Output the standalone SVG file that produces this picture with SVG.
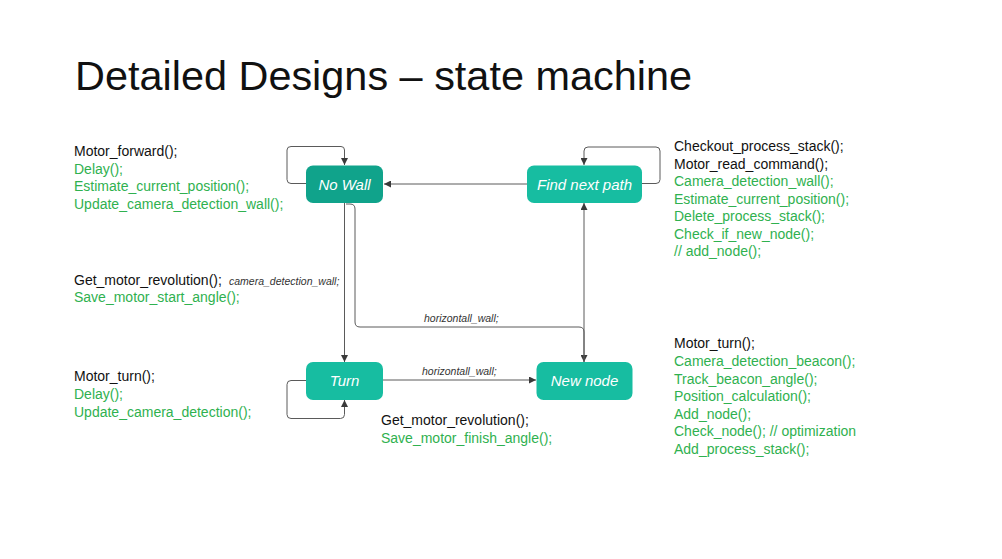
<svg xmlns="http://www.w3.org/2000/svg" width="1002" height="559" viewBox="0 0 1002 559">
  <style>
    .title { font-family: "Liberation Sans", Arial, sans-serif; font-size: 41px; fill: #111; }
    .code { font-family: "Liberation Sans", Arial, sans-serif; font-size: 14px; }
    .blk { fill: #111; }
    .grn { fill: #2fb14f; }
    .state { fill: #17bda1; }
    .state.dark { fill: #10a38b; }
    .lbl { font-family: "Liberation Sans", Arial, sans-serif; font-size: 15px; font-style: italic; fill: #fff; text-anchor: middle; }
    .edge { fill: none; stroke: #5a5a5a; stroke-width: 1; }
    .elbl { font-family: "Liberation Sans", Arial, sans-serif; font-size: 10.5px; font-style: italic; fill: #333; }
  </style>
  <defs>
    <marker id="arrow" viewBox="0 0 8 8" refX="8" refY="4" markerWidth="7" markerHeight="7" markerUnits="userSpaceOnUse" orient="auto">
      <path d="M0,0 L8,4 L0,8 z" fill="#3a3a3a"/>
    </marker>
  </defs>

  <rect width="1002" height="559" fill="#ffffff"/>

  <text class="title" x="75" y="90" textLength="617" lengthAdjust="spacingAndGlyphs">Detailed Designs – state machine</text>

  <!-- transitions -->
  <g id="connectors">
    <path class="edge" d="M306,183.5 H291 Q287,183.5 287,179.5 V150 Q287,146.5 291,146.5 H341 Q344.5,146.5 344.5,150 V165" marker-end="url(#arrow)"/>
    <path class="edge" d="M642,183.5 H656 Q660,183.5 660,179.5 V151 Q660,147 656,147 H588 Q584,147 584,151 V165" marker-end="url(#arrow)"/>
    <path class="edge" d="M527,184 H384" marker-end="url(#arrow)"/>
    <path class="edge" d="M344.5,203 V362" marker-end="url(#arrow)"/>
    <path class="edge" d="M346,204 H350 Q355,204 355,209 V322 Q355,327 360,327 H579 Q584,327 584,332 V362" marker-end="url(#arrow)"/>
    <path class="edge" d="M584,362 V203" marker-end="url(#arrow)"/>
    <path class="edge" d="M383,380 H536" marker-end="url(#arrow)"/>
    <path class="edge" d="M306,380.5 H291 Q287,380.5 287,384.5 V414.5 Q287,418.5 291,418.5 H340.5 Q344.5,418.5 344.5,414.5 V400" marker-end="url(#arrow)"/>
    <text class="elbl" x="229" y="285">camera_detection_wall;</text>
    <text class="elbl" x="424" y="322">horizontall_wall;</text>
    <text class="elbl" x="422" y="375">horizontall_wall;</text>
  </g>

  <g id="no-wall">
    <rect class="state dark" x="306" y="165.5" width="77" height="37.5" rx="7"/>
    <text class="lbl" x="344.5" y="189.5">No Wall</text>
  </g>
  <g id="find-next-path">
    <rect class="state" x="527" y="165.5" width="115" height="37.5" rx="7"/>
    <text class="lbl" x="584.5" y="189.5">Find next path</text>
  </g>
  <g id="turn">
    <rect class="state" x="306" y="362" width="77" height="38" rx="7"/>
    <text class="lbl" x="344.5" y="386">Turn</text>
  </g>
  <g id="new-node">
    <rect class="state" x="536.5" y="362" width="96" height="38" rx="7"/>
    <text class="lbl" x="584.5" y="386">New node</text>
  </g>

  <!-- actions attached to each state -->
  <g id="no-wall-actions" class="code">
    <text class="blk" x="74" y="156">Motor_forward();</text>
    <text class="grn" x="74" y="173.5">Delay();</text>
    <text class="grn" x="74" y="191">Estimate_current_position();</text>
    <text class="grn" x="74" y="208.5">Update_camera_detection_wall();</text>
  </g>
  <g id="find-next-path-actions" class="code">
    <text class="blk" x="674" y="151">Checkout_process_stack();</text>
    <text class="blk" x="674" y="168.5">Motor_read_command();</text>
    <text class="grn" x="674" y="186">Camera_detection_wall();</text>
    <text class="grn" x="674" y="203.5">Estimate_current_position();</text>
    <text class="grn" x="674" y="221">Delete_process_stack();</text>
    <text class="grn" x="674" y="238.5">Check_if_new_node();</text>
    <text class="grn" x="674" y="256">// add_node();</text>
  </g>
  <g id="start-turn-actions" class="code">
    <text class="blk" x="74" y="285">Get_motor_revolution();</text>
    <text class="grn" x="74" y="302">Save_motor_start_angle();</text>
  </g>
  <g id="turn-actions" class="code">
    <text class="blk" x="74" y="381">Motor_turn();</text>
    <text class="grn" x="74" y="399">Delay();</text>
    <text class="grn" x="74" y="417">Update_camera_detection();</text>
  </g>
  <g id="finish-turn-actions" class="code">
    <text class="blk" x="381" y="425">Get_motor_revolution();</text>
    <text class="grn" x="381" y="443">Save_motor_finish_angle();</text>
  </g>
  <g id="new-node-actions" class="code">
    <text class="blk" x="674" y="348">Motor_turn();</text>
    <text class="grn" x="674" y="366">Camera_detection_beacon();</text>
    <text class="grn" x="674" y="383.5">Track_beacon_angle();</text>
    <text class="grn" x="674" y="401">Position_calculation();</text>
    <text class="grn" x="674" y="418.5">Add_node();</text>
    <text class="grn" x="674" y="436">Check_node(); // optimization</text>
    <text class="grn" x="674" y="454">Add_process_stack();</text>
  </g>
</svg>
